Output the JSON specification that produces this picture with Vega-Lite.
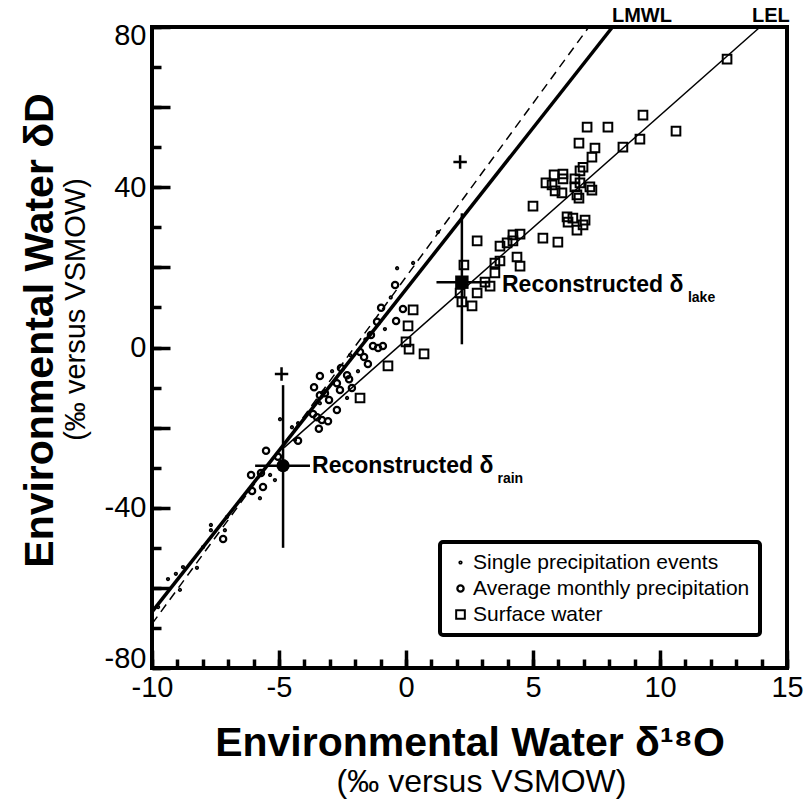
{
  "$schema": "https://vega.github.io/schema/vega-lite/v6.json",
  "width": 635,
  "height": 641,
  "autosize": "none",
  "padding": {"left": 152, "top": 27, "right": 20, "bottom": 131},
  "config": {
    "view": {"stroke": "black", "strokeWidth": 4},
    "font": "Liberation Sans",
    "axis": {"grid": false, "domain": false, "tickColor": "black", "labelColor": "black", "titleColor": "black", "labelOverlap": false, "labelFlush": false},
    "legend": {"strokeWidth": 4}
  },
  "datasets": {
    "lines": [
      {"line": "LMWL", "x": -10, "y": -66},
      {"line": "LMWL", "x": 8.13, "y": 80},
      {"line": "dashed", "x": -10, "y": -69},
      {"line": "dashed", "x": 7.2, "y": 80},
      {"line": "LEL", "x": -4.8, "y": -25},
      {"line": "LEL", "x": 13.94, "y": 80}
    ],
    "obs": [
      {"type": "Surface water", "x": 12.64, "y": 72.0},
      {"type": "Surface water", "x": 9.33, "y": 58.0},
      {"type": "Surface water", "x": 7.13, "y": 55.0},
      {"type": "Surface water", "x": 7.95, "y": 55.0},
      {"type": "Surface water", "x": 10.63, "y": 54.0},
      {"type": "Surface water", "x": 9.21, "y": 52.0},
      {"type": "Surface water", "x": 8.54, "y": 50.0},
      {"type": "Surface water", "x": 6.81, "y": 51.0},
      {"type": "Surface water", "x": 7.44, "y": 49.8},
      {"type": "Surface water", "x": 7.32, "y": 47.5},
      {"type": "Surface water", "x": 6.97, "y": 45.0},
      {"type": "Surface water", "x": 6.85, "y": 44.1},
      {"type": "Surface water", "x": 5.83, "y": 43.1},
      {"type": "Surface water", "x": 6.18, "y": 43.3},
      {"type": "Surface water", "x": 6.65, "y": 42.1},
      {"type": "Surface water", "x": 6.85, "y": 41.1},
      {"type": "Surface water", "x": 5.51, "y": 41.1},
      {"type": "Surface water", "x": 5.75, "y": 40.6},
      {"type": "Surface water", "x": 6.18, "y": 42.1},
      {"type": "Surface water", "x": 7.24, "y": 40.1},
      {"type": "Surface water", "x": 7.32, "y": 39.3},
      {"type": "Surface water", "x": 5.87, "y": 39.1},
      {"type": "Surface water", "x": 6.14, "y": 38.6},
      {"type": "Surface water", "x": 6.65, "y": 40.1},
      {"type": "Surface water", "x": 6.73, "y": 38.1},
      {"type": "Surface water", "x": 6.81, "y": 37.3},
      {"type": "Surface water", "x": 5.0, "y": 35.3},
      {"type": "Surface water", "x": 6.34, "y": 32.6},
      {"type": "Surface water", "x": 6.57, "y": 32.3},
      {"type": "Surface water", "x": 7.05, "y": 31.8},
      {"type": "Surface water", "x": 6.38, "y": 31.3},
      {"type": "Surface water", "x": 6.73, "y": 29.3},
      {"type": "Surface water", "x": 6.97, "y": 30.6},
      {"type": "Surface water", "x": 2.8, "y": 26.6},
      {"type": "Surface water", "x": 3.7, "y": 25.3},
      {"type": "Surface water", "x": 3.98, "y": 26.1},
      {"type": "Surface water", "x": 4.21, "y": 26.6},
      {"type": "Surface water", "x": 4.21, "y": 28.1},
      {"type": "Surface water", "x": 4.49, "y": 28.3},
      {"type": "Surface water", "x": 5.39, "y": 27.3},
      {"type": "Surface water", "x": 5.98, "y": 26.3},
      {"type": "Surface water", "x": 3.5, "y": 21.1},
      {"type": "Surface water", "x": 3.7, "y": 21.6},
      {"type": "Surface water", "x": 4.37, "y": 22.6},
      {"type": "Surface water", "x": 4.49, "y": 20.3},
      {"type": "Surface water", "x": 3.5, "y": 18.6},
      {"type": "Surface water", "x": 2.28, "y": 20.6},
      {"type": "Surface water", "x": 3.11, "y": 16.3},
      {"type": "Surface water", "x": 3.31, "y": 15.3},
      {"type": "Surface water", "x": 2.8, "y": 13.6},
      {"type": "Surface water", "x": 2.13, "y": 13.6},
      {"type": "Surface water", "x": 2.2, "y": 11.4},
      {"type": "Surface water", "x": 2.6, "y": 10.4},
      {"type": "Surface water", "x": 0.28, "y": 9.4},
      {"type": "Surface water", "x": 0.08, "y": 5.4},
      {"type": "Surface water", "x": 0.0, "y": 1.4},
      {"type": "Surface water", "x": 0.12, "y": -0.4},
      {"type": "Surface water", "x": 0.71, "y": -1.6},
      {"type": "Surface water", "x": -0.71, "y": -4.6},
      {"type": "Surface water", "x": -1.81, "y": -12.6},
      {"type": "Average monthly precipitation", "x": -0.43, "y": 15.6},
      {"type": "Average monthly precipitation", "x": -0.98, "y": 9.9},
      {"type": "Average monthly precipitation", "x": -0.12, "y": 9.6},
      {"type": "Average monthly precipitation", "x": -1.14, "y": 6.4},
      {"type": "Average monthly precipitation", "x": -0.39, "y": 6.6},
      {"type": "Average monthly precipitation", "x": -1.38, "y": 3.1},
      {"type": "Average monthly precipitation", "x": -1.3, "y": 0.4},
      {"type": "Average monthly precipitation", "x": -1.1, "y": -0.1},
      {"type": "Average monthly precipitation", "x": -0.91, "y": 0.4},
      {"type": "Average monthly precipitation", "x": -1.81, "y": -1.1},
      {"type": "Average monthly precipitation", "x": -1.65, "y": -2.4},
      {"type": "Average monthly precipitation", "x": -1.5, "y": -4.1},
      {"type": "Average monthly precipitation", "x": -2.56, "y": -5.1},
      {"type": "Average monthly precipitation", "x": -2.32, "y": -6.9},
      {"type": "Average monthly precipitation", "x": -2.24, "y": -7.9},
      {"type": "Average monthly precipitation", "x": -2.72, "y": -8.9},
      {"type": "Average monthly precipitation", "x": -2.6, "y": -10.6},
      {"type": "Average monthly precipitation", "x": -3.39, "y": -7.1},
      {"type": "Average monthly precipitation", "x": -3.62, "y": -9.9},
      {"type": "Average monthly precipitation", "x": -3.19, "y": -11.4},
      {"type": "Average monthly precipitation", "x": -3.39, "y": -11.9},
      {"type": "Average monthly precipitation", "x": -3.03, "y": -13.1},
      {"type": "Average monthly precipitation", "x": -2.13, "y": -10.1},
      {"type": "Average monthly precipitation", "x": -2.72, "y": -15.6},
      {"type": "Average monthly precipitation", "x": -3.66, "y": -16.6},
      {"type": "Average monthly precipitation", "x": -3.5, "y": -17.4},
      {"type": "Average monthly precipitation", "x": -3.31, "y": -18.1},
      {"type": "Average monthly precipitation", "x": -3.07, "y": -18.4},
      {"type": "Average monthly precipitation", "x": -3.43, "y": -20.3},
      {"type": "Average monthly precipitation", "x": -4.25, "y": -23.3},
      {"type": "Average monthly precipitation", "x": -5.51, "y": -25.8},
      {"type": "Average monthly precipitation", "x": -5.04, "y": -27.3},
      {"type": "Average monthly precipitation", "x": -6.1, "y": -31.8},
      {"type": "Average monthly precipitation", "x": -5.71, "y": -31.3},
      {"type": "Average monthly precipitation", "x": -6.06, "y": -35.8},
      {"type": "Average monthly precipitation", "x": -5.63, "y": -34.8},
      {"type": "Average monthly precipitation", "x": -7.2, "y": -47.8},
      {"type": "Single precipitation events", "x": 1.26, "y": 28.8},
      {"type": "Single precipitation events", "x": 0.28, "y": 21.1},
      {"type": "Single precipitation events", "x": -0.35, "y": 19.8},
      {"type": "Single precipitation events", "x": -0.6, "y": 12.5},
      {"type": "Single precipitation events", "x": -0.83, "y": 4.6},
      {"type": "Single precipitation events", "x": -1.6, "y": 2.0},
      {"type": "Single precipitation events", "x": -2.2, "y": -1.9},
      {"type": "Single precipitation events", "x": -1.89, "y": -5.9},
      {"type": "Single precipitation events", "x": -2.91, "y": -5.9},
      {"type": "Single precipitation events", "x": -2.32, "y": -12.6},
      {"type": "Single precipitation events", "x": -3.39, "y": -13.9},
      {"type": "Single precipitation events", "x": -4.96, "y": -17.9},
      {"type": "Single precipitation events", "x": -4.49, "y": -19.9},
      {"type": "Single precipitation events", "x": -4.25, "y": -18.9},
      {"type": "Single precipitation events", "x": -4.37, "y": -23.1},
      {"type": "Single precipitation events", "x": -5.35, "y": -31.8},
      {"type": "Single precipitation events", "x": -5.16, "y": -33.1},
      {"type": "Single precipitation events", "x": -5.75, "y": -37.6},
      {"type": "Single precipitation events", "x": -7.68, "y": -44.3},
      {"type": "Single precipitation events", "x": -7.68, "y": -45.6},
      {"type": "Single precipitation events", "x": -7.13, "y": -45.6},
      {"type": "Single precipitation events", "x": -7.05, "y": -42.3},
      {"type": "Single precipitation events", "x": -7.99, "y": -49.8},
      {"type": "Single precipitation events", "x": -8.78, "y": -54.8},
      {"type": "Single precipitation events", "x": -9.06, "y": -56.5},
      {"type": "Single precipitation events", "x": -9.37, "y": -57.8},
      {"type": "Single precipitation events", "x": -8.23, "y": -55.0},
      {"type": "Single precipitation events", "x": -8.9, "y": -60.5},
      {"type": "Single precipitation events", "x": -9.76, "y": -64.8}
    ],
    "recon": [
      {"name": "rain", "x": -4.84, "y": -29.5, "xlo": -5.94, "xhi": -3.78, "ylo": -50, "yhi": -9.4},
      {"name": "lake", "x": 2.2, "y": 16.3, "xlo": 1.2, "xhi": 3.3, "ylo": 0.8, "yhi": 33.5}
    ],
    "plus": [
      {"x": -4.9, "y": -6.6},
      {"x": 2.13, "y": 46.3}
    ],
    "mainLabels": [
      {"text": "Reconstructed δ", "x": -3.7, "y": -29.7},
      {"text": "Reconstructed δ", "x": 3.78, "y": 15.5}
    ],
    "subLabels": [
      {"text": "rain", "x": 3.6, "y": -33.8},
      {"text": "lake", "x": 11.1, "y": 11.35}
    ],
    "lineLabels": [
      {"text": "LMWL", "x": 8.11, "y": 80},
      {"text": "LEL", "x": 13.62, "y": 80}
    ]
  },
  "resolve": {"axis": {"x": "independent", "y": "independent"}},
  "layer": [
    {
      "data": {"name": "lines"},
      "transform": [{"filter": "datum.line === 'LMWL'"}],
      "mark": {"type": "line", "color": "black", "strokeWidth": 3.5},
      "encoding": {
        "x": {"field": "x", "type": "quantitative", "scale": {"domain": [-10, 15], "nice": false, "zero": false},
          "axis": {"orient": "bottom", "values": [-10, -5, 0, 5, 10, 15], "tickSize": -18, "tickWidth": 3.5,
            "labelExpr": "datum.value + ''",
            "labelFont": "Liberation Sans", "labelFontSize": 29, "labelPadding": 23,
            "title": "Environmental Water δ¹⁸O", "titleFont": "Liberation Sans", "titleFontSize": 41, "titleFontWeight": "bold", "titlePadding": 21}},
        "y": {"field": "y", "type": "quantitative", "scale": {"domain": [-80, 80], "nice": false, "zero": false},
          "axis": {"orient": "left", "values": [-80, -60, -40, -20, 0, 20, 40, 60, 80], "tickSize": -18, "tickWidth": 3.5,
            "labelExpr": "datum.value % 40 === 0 ? datum.value + '' : ''",
            "labelFont": "Liberation Sans", "labelFontSize": 29, "labelPadding": 24,
            "labelOffset": {"condition": [{"test": "datum.value === 80", "value": 8}, {"test": "datum.value === -80", "value": -10}], "value": 0},
            "title": "Environmental Water δD", "titleFont": "Liberation Sans", "titleFontSize": 41, "titleFontWeight": "bold", "titlePadding": 43, "titleY": 303}}
      }
    },
    {
      "data": {"name": "lines"},
      "transform": [{"filter": "datum.line === 'dashed'"}],
      "mark": {"type": "line", "color": "black", "strokeWidth": 1.5, "strokeDash": [9, 6]},
      "encoding": {
        "x": {"field": "x", "type": "quantitative",
          "axis": {"orient": "bottom", "values": [-10, -9, -8, -7, -6, -5, -4, -3, -2, -1, 0, 1, 2, 3, 4, 5, 6, 7, 8, 9, 10, 11, 12, 13, 14, 15], "tickSize": -9, "tickWidth": 3.5, "labels": false,
            "title": "(‰ versus VSMOW)", "titleFont": "Liberation Sans", "titleFontSize": 32, "titleFontWeight": "normal", "titlePadding": 97, "titleX": 329}},
        "y": {"field": "y", "type": "quantitative",
          "axis": {"orient": "left", "values": [-80, -70, -60, -50, -40, -30, -20, -10, 0, 10, 20, 30, 40, 50, 60, 70, 80], "tickSize": -9, "tickWidth": 3.5, "labels": false,
            "title": "(‰ versus VSMOW)", "titleFont": "Liberation Sans", "titleFontSize": 29, "titleFontWeight": "normal", "titlePadding": 60, "titleY": 282}}
      }
    },
    {
      "data": {"name": "lines"},
      "transform": [{"filter": "datum.line === 'LEL'"}],
      "mark": {"type": "line", "color": "black", "strokeWidth": 1.5},
      "encoding": {
        "x": {"field": "x", "type": "quantitative", "axis": null},
        "y": {"field": "y", "type": "quantitative", "axis": null}
      }
    },
    {
      "data": {"name": "obs"},
      "mark": {"type": "point", "filled": false, "color": "black", "opacity": 1},
      "encoding": {
        "x": {"field": "x", "type": "quantitative", "axis": null},
        "y": {"field": "y", "type": "quantitative", "axis": null},
        "shape": {"field": "type", "type": "nominal",
          "scale": {"domain": ["Single precipitation events", "Average monthly precipitation", "Surface water"], "range": ["circle", "circle", "square"]},
          "legend": {"title": null, "orient": "none", "legendX": 288, "legendY": 515, "strokeColor": "black", "fillColor": "white", "cornerRadius": 3, "padding": 10,
            "labelFont": "Liberation Sans", "labelFontSize": 21, "labelColor": "black", "labelLimit": 400, "rowPadding": 4, "symbolOffset": 0, "labelOffset": 2, "symbolStrokeColor": "black"}},
        "size": {"field": "type", "type": "nominal",
          "scale": {"domain": ["Single precipitation events", "Average monthly precipitation", "Surface water"], "range": [3, 75, 80]},
          "legend": {"title": null, "orient": "none", "legendX": 288, "legendY": 515, "strokeColor": "black", "fillColor": "white", "cornerRadius": 3, "padding": 10,
            "labelFont": "Liberation Sans", "labelFontSize": 21, "labelColor": "black", "labelLimit": 400, "rowPadding": 4, "symbolOffset": 0, "labelOffset": 2, "symbolStrokeColor": "black"}},
        "strokeWidth": {"field": "type", "type": "nominal",
          "scale": {"domain": ["Single precipitation events", "Average monthly precipitation", "Surface water"], "range": [2.5, 2, 1.8]},
          "legend": {"title": null, "orient": "none", "legendX": 288, "legendY": 515, "strokeColor": "black", "fillColor": "white", "cornerRadius": 3, "padding": 10,
            "labelFont": "Liberation Sans", "labelFontSize": 21, "labelColor": "black", "labelLimit": 400, "rowPadding": 4, "symbolOffset": 0, "labelOffset": 2, "symbolStrokeColor": "black"}}
      }
    },
    {
      "data": {"name": "recon"},
      "mark": {"type": "rule", "color": "black", "strokeWidth": 2.5},
      "encoding": {
        "x": {"field": "x", "type": "quantitative", "axis": null},
        "y": {"field": "ylo", "type": "quantitative", "axis": null},
        "y2": {"field": "yhi"}
      }
    },
    {
      "data": {"name": "recon"},
      "mark": {"type": "rule", "color": "black", "strokeWidth": 2.5},
      "encoding": {
        "x": {"field": "xlo", "type": "quantitative", "axis": null},
        "x2": {"field": "xhi"},
        "y": {"field": "y", "type": "quantitative", "axis": null}
      }
    },
    {
      "data": {"name": "recon"},
      "transform": [{"filter": "datum.name === 'rain'"}],
      "mark": {"type": "point", "shape": "circle", "filled": true, "color": "black", "opacity": 1, "size": 175},
      "encoding": {
        "x": {"field": "x", "type": "quantitative", "axis": null},
        "y": {"field": "y", "type": "quantitative", "axis": null}
      }
    },
    {
      "data": {"name": "recon"},
      "transform": [{"filter": "datum.name === 'lake'"}],
      "mark": {"type": "point", "shape": "square", "filled": true, "color": "black", "opacity": 1, "size": 180},
      "encoding": {
        "x": {"field": "x", "type": "quantitative", "axis": null},
        "y": {"field": "y", "type": "quantitative", "axis": null}
      }
    },
    {
      "data": {"name": "plus"},
      "mark": {"type": "point", "shape": "M-1,0H1M0,-1V1", "filled": false, "color": "black", "opacity": 1, "strokeWidth": 2.5, "size": 180},
      "encoding": {
        "x": {"field": "x", "type": "quantitative", "axis": null},
        "y": {"field": "y", "type": "quantitative", "axis": null}
      }
    },
    {
      "data": {"name": "mainLabels"},
      "mark": {"type": "text", "align": "left", "baseline": "middle", "font": "Liberation Sans", "fontSize": 23, "fontWeight": "bold", "color": "black"},
      "encoding": {
        "x": {"field": "x", "type": "quantitative", "axis": null},
        "y": {"field": "y", "type": "quantitative", "axis": null},
        "text": {"field": "text"}
      }
    },
    {
      "data": {"name": "subLabels"},
      "mark": {"type": "text", "align": "left", "baseline": "alphabetic", "font": "Liberation Sans", "fontSize": 14, "fontWeight": "bold", "color": "black"},
      "encoding": {
        "x": {"field": "x", "type": "quantitative", "axis": null},
        "y": {"field": "y", "type": "quantitative", "axis": null},
        "text": {"field": "text"}
      }
    },
    {
      "data": {"name": "lineLabels"},
      "mark": {"type": "text", "align": "left", "baseline": "alphabetic", "dy": -5, "font": "Liberation Sans", "fontSize": 20, "fontWeight": "bold", "color": "black"},
      "encoding": {
        "x": {"field": "x", "type": "quantitative", "axis": null},
        "y": {"field": "y", "type": "quantitative", "axis": null},
        "text": {"field": "text"}
      }
    }
  ]
}
